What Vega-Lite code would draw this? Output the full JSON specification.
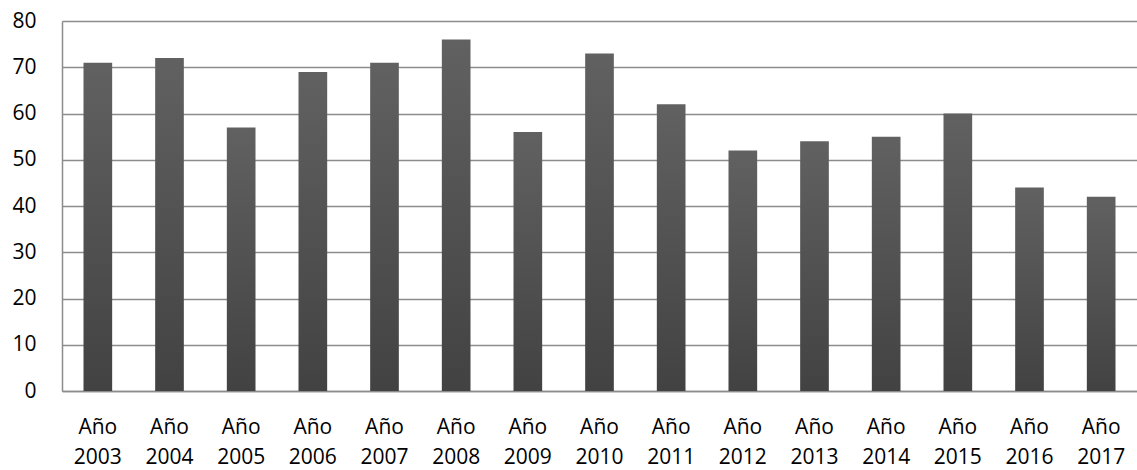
{
  "$schema": "https://vega.github.io/schema/vega-lite/v6.json",
  "width": 1075,
  "height": 370,
  "autosize": {"type": "none"},
  "padding": {"left": 62, "top": 21, "right": 0, "bottom": 79},
  "background": "white",
  "config": {"view": {"stroke": null}, "font": "Open Sans"},
  "data": {
    "values": [
      {"year": "Año 2003", "value": 71},
      {"year": "Año 2004", "value": 72},
      {"year": "Año 2005", "value": 57},
      {"year": "Año 2006", "value": 69},
      {"year": "Año 2007", "value": 71},
      {"year": "Año 2008", "value": 76},
      {"year": "Año 2009", "value": 56},
      {"year": "Año 2010", "value": 73},
      {"year": "Año 2011", "value": 62},
      {"year": "Año 2012", "value": 52},
      {"year": "Año 2013", "value": 54},
      {"year": "Año 2014", "value": 55},
      {"year": "Año 2015", "value": 60},
      {"year": "Año 2016", "value": 44},
      {"year": "Año 2017", "value": 42}
    ]
  },
  "mark": {
    "type": "bar",
    "color": {
      "gradient": "linear",
      "x1": 0, "y1": 0, "x2": 0, "y2": 1,
      "stops": [
        {"offset": 0, "color": "#616161"},
        {"offset": 1, "color": "#424242"}
      ]
    }
  },
  "encoding": {
    "x": {
      "field": "year",
      "type": "nominal",
      "sort": null,
      "scale": {"paddingInner": 0.6, "paddingOuter": 0.3},
      "axis": {
        "title": null,
        "labelAngle": 0,
        "labelExpr": "split(datum.label, ' ')",
        "labelFontSize": 21,
        "labelColor": "#000000",
        "labelLineHeight": 30,
        "labelPadding": 25,
        "ticks": false,
        "domainColor": "#8c8c8c",
        "domainWidth": 1.5
      }
    },
    "y": {
      "field": "value",
      "type": "quantitative",
      "scale": {"domain": [0, 80], "nice": false},
      "axis": {
        "title": null,
        "values": [0, 10, 20, 30, 40, 50, 60, 70, 80],
        "labelFontSize": 21,
        "labelColor": "#000000",
        "labelPadding": 26,
        "ticks": false,
        "grid": true,
        "gridColor": "#8c8c8c",
        "gridWidth": 1.5,
        "domainColor": "#8c8c8c",
        "domainWidth": 1.5
      }
    }
  }
}
